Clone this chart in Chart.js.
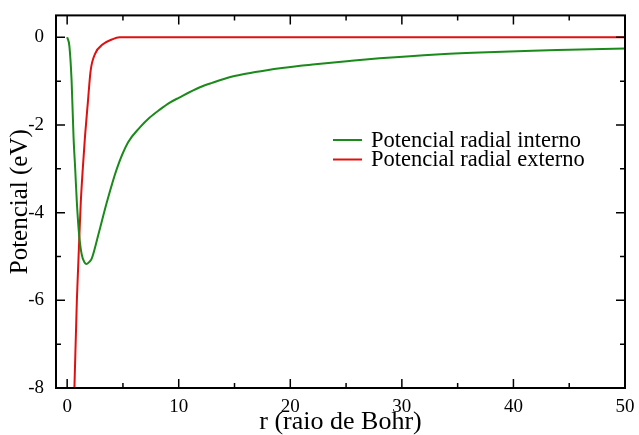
<!DOCTYPE html>
<html lang="pt">
<head>
  <meta charset="UTF-8">
  <title>Potencial radial</title>
  <style>
    *{margin:0;padding:0;box-sizing:border-box;}
    body{background:#fff;}
    #box{width:639px;height:435px;position:relative;}
  </style>
  <script src="https://cdn.jsdelivr.net/npm/chart.js@4.4.0/dist/chart.umd.min.js"></script>
</head>
<body>
  <div id="box"><canvas id="chart"></canvas></div>
  <script>
    // valores
    const rInterno = [0, 0.2, 0.4, 0.57, 0.72, 0.87, 1.07, 1.3, 1.55, 1.75, 2.0, 2.2, 2.8, 3.55, 4.45, 5.45, 6.5, 7.4, 8.3, 9.2, 10, 11.9, 13, 14.9, 16, 17.9, 20.9, 22, 25.3, 28, 33.1, 37, 41.7, 45, 50];
    const vInterno = [0, -0.2, -1.0, -2.26, -3.0, -3.77, -4.5, -4.95, -5.13, -5.17, -5.12, -5.05, -4.5, -3.77, -3.0, -2.4, -2.06, -1.83, -1.65, -1.49, -1.38, -1.14, -1.04, -0.89, -0.83, -0.75, -0.65, -0.62, -0.54, -0.48, -0.39, -0.345, -0.305, -0.285, -0.255];
    const rExterno = [0.6, 0.65, 0.87, 0.98, 1.1, 1.22, 1.4, 1.6, 1.85, 2.1, 2.5, 3.2, 4.0, 4.7, 6, 50];
    const vExterno = [-8.4, -8.0, -6.0, -5.28, -4.5, -3.77, -3.0, -2.26, -1.5, -0.77, -0.38, -0.16, -0.05, 0, 0, 0];
    const xTicks = [0, 10, 20, 30, 40, 50];
    const yTicks = [-8, -6, -4, -2, 0];
    const labels = ["Potencial radial interno", "Potencial radial externo"];
    const cores = ["#1a8a1a", "#e01010"];

    const pts = (xs, ys) => xs.map((x, i) => ({x, y: ys[i]}));
    const FONT = "'Liberation Serif', 'Times New Roman', serif";

    // ticks para dentro nos quatro lados + moldura + legenda
    const frame = {
      id: "frame",
      afterDraw(c) {
        const {ctx, chartArea: a, scales: {x, y}} = c;
        ctx.save();
        ctx.strokeStyle = "#000";
        ctx.lineWidth = 2;
        ctx.strokeRect(a.left, a.top, a.right - a.left, a.bottom - a.top);
        ctx.lineWidth = 1.5;
        ctx.beginPath();
        for (let v = 0; v <= 50; v += 5) {
          const px = x.getPixelForValue(v), L = v % 10 === 0 ? 9 : 5;
          ctx.moveTo(px, a.bottom); ctx.lineTo(px, a.bottom - L);
          ctx.moveTo(px, a.top); ctx.lineTo(px, a.top + L);
        }
        for (let v = -8; v <= 0; v += 1) {
          const py = y.getPixelForValue(v), L = v % 2 === 0 ? 9 : 5;
          ctx.moveTo(a.left, py); ctx.lineTo(a.left + L, py);
          ctx.moveTo(a.right, py); ctx.lineTo(a.right - L, py);
        }
        ctx.stroke();
        // legenda
        ctx.font = "22.5px " + FONT;
        ctx.textBaseline = "middle";
        ctx.fillStyle = "#000";
        labels.forEach((t, i) => {
          const yy = 140 + i * 19.5;
          ctx.strokeStyle = cores[i];
          ctx.lineWidth = 2;
          ctx.beginPath(); ctx.moveTo(333, yy); ctx.lineTo(362, yy); ctx.stroke();
          ctx.fillText(t, 371, yy + 1);
        });
        ctx.restore();
      }
    };

    new Chart(document.getElementById("chart"), {
      type: "line",
      data: {
        datasets: [
          {label: labels[0], data: pts(rInterno, vInterno), borderColor: cores[0], borderWidth: 2,
           pointRadius: 0, cubicInterpolationMode: "monotone"},
          {label: labels[1], data: pts(rExterno, vExterno), borderColor: cores[1], borderWidth: 2,
           pointRadius: 0, cubicInterpolationMode: "monotone"}
        ]
      },
      options: {
        responsive: true,
        maintainAspectRatio: false,
        animation: false,
        layout: {padding: {top: 10, right: 14, left: 0, bottom: 0}},
        plugins: {legend: {display: false}, tooltip: {enabled: false}},
        scales: {
          x: {
            type: "linear", min: -1, max: 50,
            afterBuildTicks: s => { s.ticks = xTicks.map(v => ({value: v})); },
            afterFit: s => { s.height = 47; },
            grid: {display: false},
            border: {display: false},
            ticks: {color: "#000", font: {family: FONT, size: 19, lineHeight: 1}, padding: 2, maxRotation: 0},
            title: {display: true, text: "r (raio de Bohr)", color: "#000", font: {family: FONT, size: 26, lineHeight: 1}, padding: {top: 0, bottom: 0}}
          },
          y: {
            type: "linear", min: -8, max: 0.5,
            afterBuildTicks: s => { s.ticks = yTicks.map(v => ({value: v})); },
            afterFit: s => { s.width = 56; },
            grid: {display: false},
            border: {display: false},
            ticks: {color: "#000", font: {family: FONT, size: 19}, padding: 4},
            title: {display: true, text: "Potencial (eV)", color: "#000", font: {family: FONT, size: 25, lineHeight: 1}, padding: {top: 8, bottom: 0}}
          }
        }
      },
      plugins: [frame]
    });
  </script>
</body>
</html>
